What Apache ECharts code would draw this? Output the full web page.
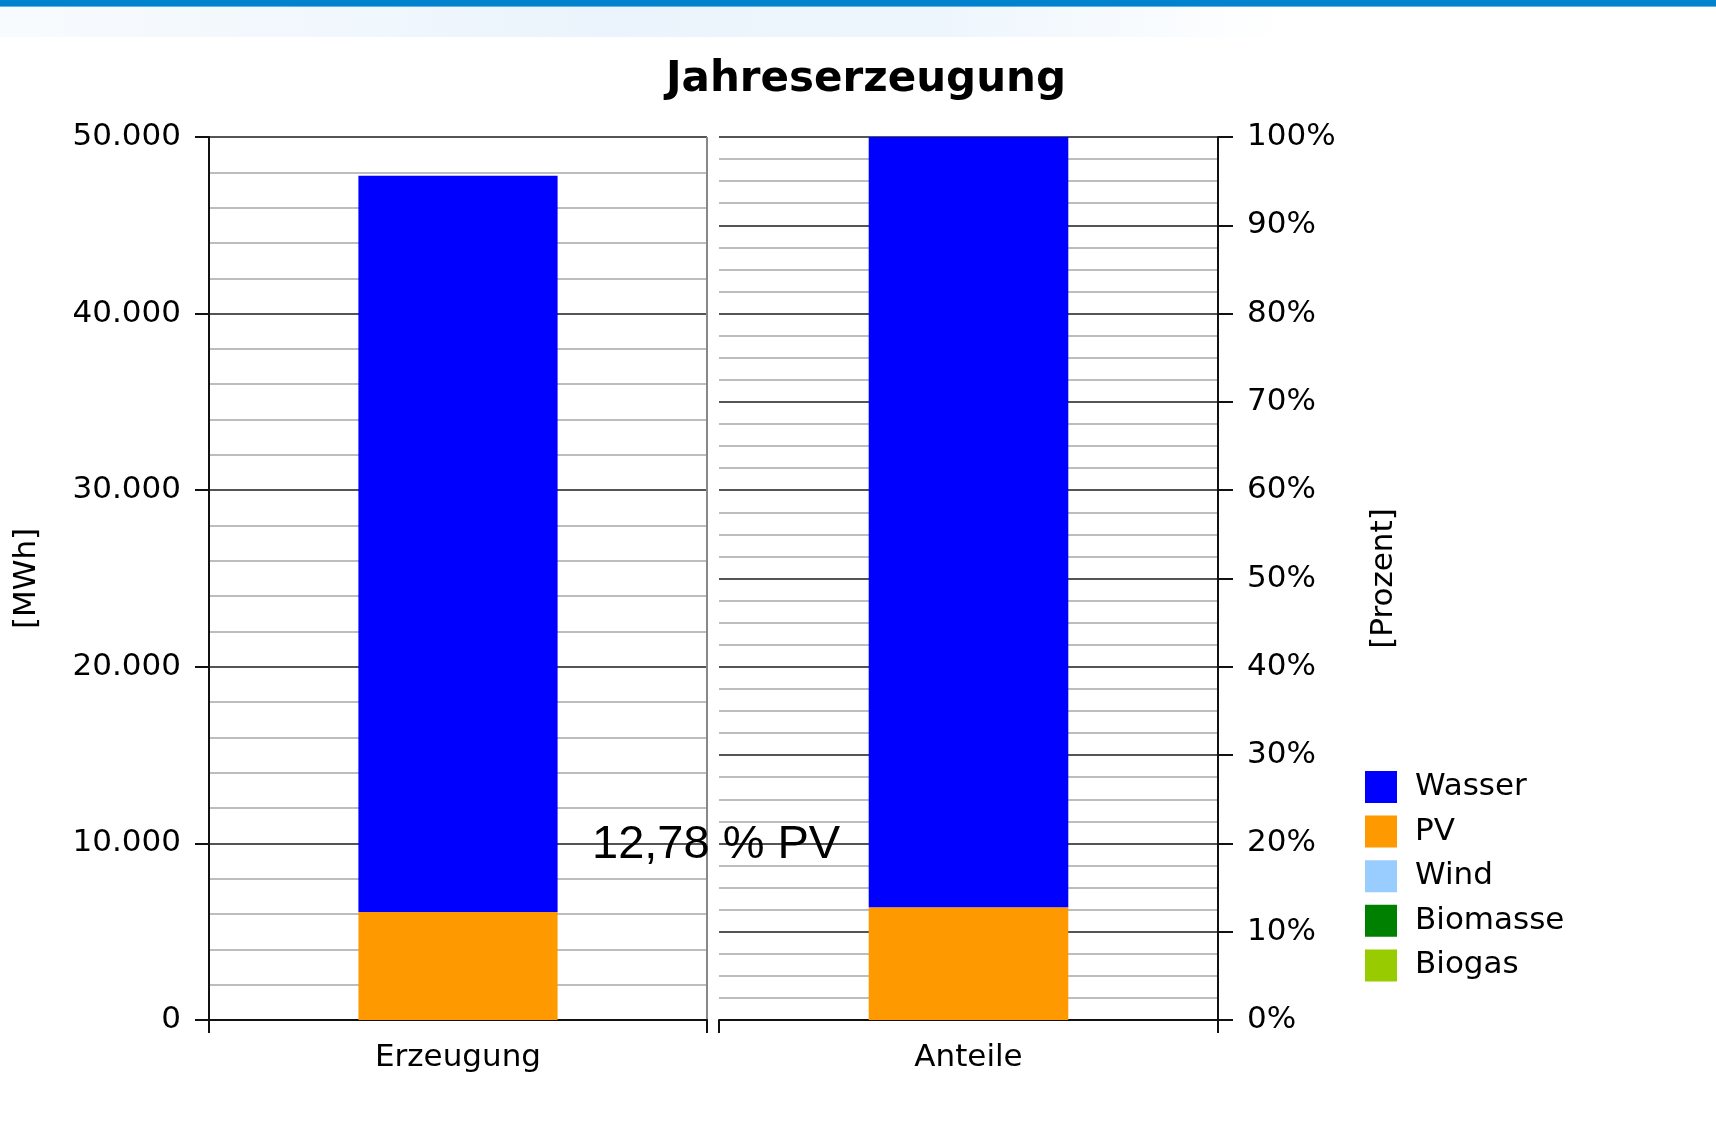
<!DOCTYPE html>
<html>
<head>
<meta charset="utf-8">
<title>Jahreserzeugung</title>
<script src="https://cdn.jsdelivr.net/npm/echarts@6/dist/echarts.min.js"></script>
<style>
  html, body { margin: 0; padding: 0; background: #ffffff; }
  #chart { width: 1716px; height: 1144px; }
</style>
</head>
<body>
<div id="chart"></div>
<script>
// Categories of the two panels
const kategorienLinks = ['Erzeugung'];
const kategorienRechts = ['Anteile'];

// Annual generation in MWh
const erzeugungWasser = [41700];
const erzeugungPV = [6110];
const erzeugungWind = [0];
const erzeugungBiomasse = [0];
const erzeugungBiogas = [0];

// Shares in percent
const anteilWasser = [87.22];
const anteilPV = [12.78];
const anteilWind = [0];
const anteilBiomasse = [0];
const anteilBiogas = [0];

// Legend order
const energietraeger = ['Wasser', 'PV', 'Wind', 'Biomasse', 'Biogas'];
const farben = {
  Wasser: '#0000ff',
  PV: '#ff9900',
  Wind: '#99ccff',
  Biomasse: '#008000',
  Biogas: '#99cc00'
};

const FONT = 'DejaVu Sans';
const tickFont = { fontFamily: FONT, fontSize: 31, color: '#000' };

function tausender(v) {
  return String(v).replace(/\B(?=(\d{3})+(?!\d))/g, '.');
}

const chart = echarts.init(document.getElementById('chart'), null, { renderer: 'canvas' });

function barSeries(name, data, xi, stack) {
  return {
    name: name,
    type: 'bar',
    stack: stack,
    xAxisIndex: xi,
    yAxisIndex: xi,
    barWidth: '40%',
    itemStyle: { color: farben[name] },
    data: data
  };
}

const pvText = anteilPV[0].toFixed(2).replace('.', ',') + ' % PV';

const option = {
  backgroundColor: '#ffffff',
  animation: false,
  title: {
    text: 'Jahreserzeugung',
    left: 861,
    top: 54,
    textAlign: 'center',
    textStyle: { fontFamily: FONT, fontWeight: 'bold', fontSize: 42, color: '#000' }
  },
  legend: {
    orient: 'vertical',
    left: 1360,
    top: 766,
    itemWidth: 32,
    itemHeight: 32,
    itemGap: 12.6,
    icon: 'rect',
    data: energietraeger,
    textStyle: { fontFamily: FONT, fontSize: 31, color: '#000', padding: [0, 0, 0, 13] }
  },
  grid: [
    { left: 209, top: 137, width: 498, height: 883, outerBoundsMode: 'none', containLabel: false },
    { left: 719, top: 137, width: 499, height: 883, outerBoundsMode: 'none', containLabel: false }
  ],
  xAxis: [
    {
      type: 'category', gridIndex: 0, data: kategorienLinks,
      axisLine: { lineStyle: { color: '#111', width: 2 } },
      axisTick: { show: true, length: 13, lineStyle: { color: '#111', width: 2 } },
      axisLabel: Object.assign({ margin: 22 }, tickFont),
      splitLine: { show: true, lineStyle: { color: '#888', width: 2 } }
    },
    {
      type: 'category', gridIndex: 1, data: kategorienRechts,
      axisLine: { lineStyle: { color: '#111', width: 2 } },
      axisTick: { show: true, length: 13, lineStyle: { color: '#111', width: 2 } },
      axisLabel: Object.assign({ margin: 22 }, tickFont),
      splitLine: { show: false }
    }
  ],
  yAxis: [
    {
      type: 'value', gridIndex: 0, position: 'left',
      min: 0, max: 50000, interval: 10000,
      name: '[MWh]', nameLocation: 'middle', nameGap: 167, nameRotate: 90,
      nameTextStyle: { fontFamily: FONT, fontSize: 31, color: '#000' },
      axisLine: { show: true, lineStyle: { color: '#111', width: 2 } },
      axisTick: { show: true, inside: false, length: 14, lineStyle: { color: '#111', width: 2 } },
      axisLabel: Object.assign({ margin: 28, formatter: tausender }, tickFont),
      splitLine: { show: true, lineStyle: { color: '#555', width: 2 } },
      minorTick: { show: false, splitNumber: 5 },
      minorSplitLine: { show: true, lineStyle: { color: '#bdbdbd', width: 2 } }
    },
    {
      type: 'value', gridIndex: 1, position: 'right',
      min: 0, max: 100, interval: 10,
      name: '[Prozent]', nameLocation: 'middle', nameGap: 150, nameRotate: 90,
      nameTextStyle: { fontFamily: FONT, fontSize: 31, color: '#000' },
      axisLine: { show: true, lineStyle: { color: '#111', width: 2 } },
      axisTick: { show: true, inside: false, length: 15, lineStyle: { color: '#111', width: 2 } },
      axisLabel: Object.assign({ margin: 29, formatter: '{value}%' }, tickFont),
      splitLine: { show: true, lineStyle: { color: '#555', width: 2 } },
      minorTick: { show: false, splitNumber: 4 },
      minorSplitLine: { show: true, lineStyle: { color: '#bdbdbd', width: 2 } }
    }
  ],
  series: [
    barSeries('PV', erzeugungPV, 0, 'links'),
    barSeries('Wasser', erzeugungWasser, 0, 'links'),
    barSeries('Wind', erzeugungWind, 0, 'links'),
    barSeries('Biomasse', erzeugungBiomasse, 0, 'links'),
    barSeries('Biogas', erzeugungBiogas, 0, 'links'),
    barSeries('PV', anteilPV, 1, 'rechts'),
    barSeries('Wasser', anteilWasser, 1, 'rechts'),
    barSeries('Wind', anteilWind, 1, 'rechts'),
    barSeries('Biomasse', anteilBiomasse, 1, 'rechts'),
    barSeries('Biogas', anteilBiogas, 1, 'rechts')
  ],
  graphic: [
    // page header band
    {
      type: 'rect', left: 0, top: 6, z: -10,
      shape: { width: 1716, height: 31 },
      style: {
        fill: new echarts.graphic.LinearGradient(0, 0, 1, 0, [
          { offset: 0, color: '#f8fbfe' },
          { offset: 0.35, color: '#ebf4fc' },
          { offset: 0.55, color: '#eef6fd' },
          { offset: 0.75, color: '#ffffff' },
          { offset: 1, color: '#ffffff' }
        ])
      }
    },
    {
      type: 'rect', left: 0, top: 0, z: 10,
      shape: { width: 1716, height: 6 },
      style: { fill: '#0083cf' }
    },
    {
      type: 'rect', left: 0, top: 6, z: 10,
      shape: { width: 1716, height: 1 },
      style: { fill: '#62b2e4' }
    },
    // PV share annotation
    {
      type: 'text', left: 592, top: 822, z: 100,
      style: {
        text: pvText,
        fontFamily: 'Liberation Sans',
        fontSize: 47,
        fill: '#000'
      }
    }
  ]
};

chart.setOption(option);
</script>
</body>
</html>
